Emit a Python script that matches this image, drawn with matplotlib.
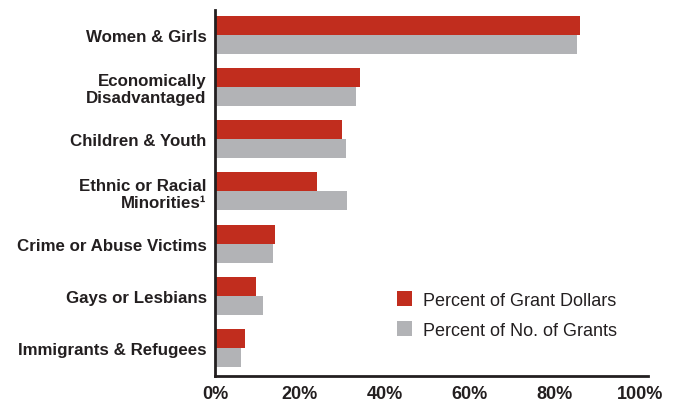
import numpy as np
import matplotlib
matplotlib.use('Agg')
import matplotlib.pyplot as plt

plt.rcParams['font.family'] = ['Liberation Sans', 'DejaVu Sans']

# data (percent)
categories = ['Women & Girls', 'Economically\nDisadvantaged', 'Children & Youth',
              'Ethnic or Racial\nMinorities¹', 'Crime or Abuse Victims',
              'Gays or Lesbians', 'Immigrants & Refugees']
grant_dollars = [85.9, 34.1, 29.9, 24.0, 14.1, 9.6, 7.1]
no_of_grants = [85.2, 33.2, 30.8, 31.1, 13.6, 11.3, 6.1]
xticks = [0, 20, 40, 60, 80, 100]
xtick_labels = ['0%', '20%', '40%', '60%', '80%', '100%']

red = '#C12D1E'
gray = '#B2B3B6'

fig = plt.figure(figsize=(6.74, 4.02), dpi=100)
ax = fig.add_axes([0.319, 0.0615, 0.642, 0.912])

y = np.arange(len(categories))[::-1]
h = 0.363
ax.barh(y + h / 2, grant_dollars, height=h, color=red, label='Percent of Grant Dollars')
ax.barh(y - h / 2, no_of_grants, height=h, color=gray, label='Percent of No. of Grants')

ax.set_xlim(0, 101.9)
ax.set_ylim(-0.535, len(categories) - 1 + 0.478)
ax.set_yticks(y)
ax.set_yticklabels(categories, fontsize=12.2, fontweight='bold', color='#231F20',
                   linespacing=1.15)
ax.set_xticks(xticks)
ax.set_xticklabels(xtick_labels, fontsize=13, fontweight='bold', color='#231F20')
ax.tick_params(axis='both', length=0)
ax.tick_params(axis='y', pad=6)
ax.tick_params(axis='x', pad=6)

for s in ['top', 'right']:
    ax.spines[s].set_visible(False)
for s in ['left', 'bottom']:
    ax.spines[s].set_linewidth(2)
    ax.spines[s].set_color('#231F20')

ax.legend(loc='lower right', bbox_to_anchor=(0.967, 0.058), frameon=False,
          fontsize=13, handlelength=0.85, handleheight=0.85,
          handletextpad=0.6, labelspacing=0.7, labelcolor='#231F20')

fig.savefig('out.png', dpi=100)
